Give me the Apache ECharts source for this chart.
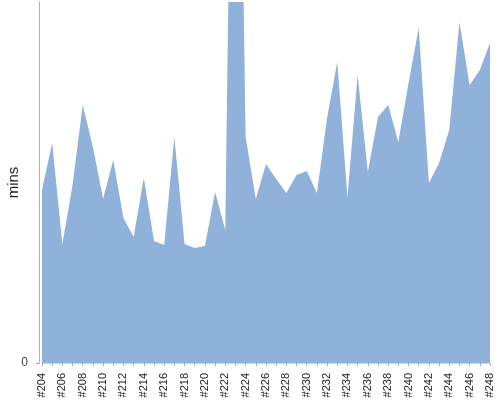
<!DOCTYPE html>
<html style="height: 100%">
<head>
    <meta charset="utf-8">
    <script type="text/javascript" src="https://cdn.jsdelivr.net/npm/echarts@6/dist/echarts.min.js"></script>
</head>
<body style="height: 100%; margin: 0">
<div id="container" style="width: 500px; height: 400px"></div>
<script type="text/javascript">
    // build numbers #204 .. #248
    var builds = ['#204','#205','#206','#207','#208','#209','#210','#211','#212','#213',
        '#214','#215','#216','#217','#218','#219','#220','#221','#222','#223',
        '#224','#225','#226','#227','#228','#229','#230','#231','#232','#233',
        '#234','#235','#236','#237','#238','#239','#240','#241','#242','#243',
        '#244','#245','#246','#247','#248'];
    // duration in minutes (#223 runs off the top)
    var mins = [17.3, 22.0, 11.9, 17.8, 25.8, 21.6, 16.4, 20.3, 14.5, 12.6,
        18.5, 12.2, 11.8, 22.6, 11.9, 11.5, 11.7, 17.1, 13.3, 91.3,
        22.6, 16.4, 19.9, 18.4, 17.0, 18.8, 19.2, 17.0, 24.5, 30.1,
        16.6, 28.8, 19.1, 24.6, 25.8, 22.1, 28.0, 33.5, 18.0, 20.0,
        23.3, 34.1, 27.8, 29.3, 32.0];
    var yMax = 36.1;

    var myChart = echarts.init(document.getElementById('container'));
    myChart.setOption({
        animation: false,
        grid: {left: 42, right: 10, top: 2, bottom: 37, outerBoundsMode: 'none', containLabel: false},
        xAxis: {
            type: 'category',
            data: builds,
            boundaryGap: false,
            offset: 6,
            axisLine: {lineStyle: {color: '#d4d4d4', width: 1}},
            axisTick: {interval: 0, length: 3, lineStyle: {color: '#aaa'}},
            axisLabel: {
                interval: 1,
                rotate: 90,
                margin: 4,
                fontFamily: 'Liberation Sans',
                fontSize: 11,
                color: '#222'
            }
        },
        yAxis: {
            type: 'value',
            min: 0,
            max: yMax,
            offset: 3,
            name: 'mins',
            nameLocation: 'middle',
            nameGap: 18,
            nameMoveOverlap: false,
            nameTextStyle: {fontFamily: 'Liberation Sans', fontSize: 15, color: '#222'},
            axisLine: {show: true, lineStyle: {color: '#b0b0b0'}},
            axisTick: {show: true, length: 3, customValues: [0], lineStyle: {color: '#999'}},
            axisLabel: {customValues: [0], margin: 11, fontFamily: 'Liberation Sans', fontSize: 12, color: '#444'},
            splitLine: {show: false}
        },
        series: [{
            type: 'line',
            data: mins,
            symbol: 'none',
            clip: true,
            lineStyle: {width: 0},
            areaStyle: {color: '#8fb1da', opacity: 1}
        }]
    });
</script>
</body>
</html>
